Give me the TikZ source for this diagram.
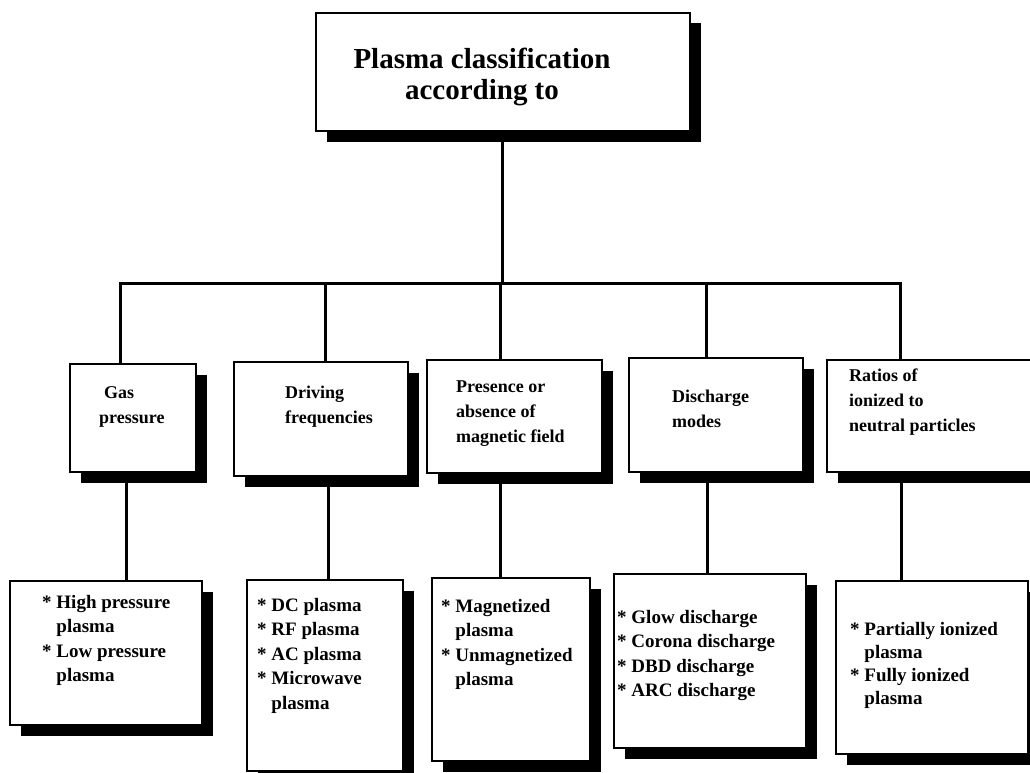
\documentclass[tikz,border=0pt]{standalone}
\usepackage{fontspec}
\setmainfont{Liberation Serif}
\usetikzlibrary{shadows}
\tikzset{
  box/.style={draw=black, line width=1.3pt, fill=white, inner sep=0pt,
    drop shadow={shadow xshift=10.5pt, shadow yshift=-10.5pt, fill=black, opacity=1}},
  conn/.style={line width=3pt},
  midtxt/.style={anchor=base west, align=left, inner sep=0pt, font=\bfseries\fontsize{18}{25}\selectfont},
  lowtxt/.style={anchor=base west, align=left, inner sep=0pt, font=\bfseries\fontsize{19}{24.5}\selectfont},
}
\begin{document}
\begin{tikzpicture}[x=1pt,y=-1pt]
\useasboundingbox[fill=white] (0,0) rectangle (1030,773);
% top
\node[box, minimum width=374pt, minimum height=118pt] (top) at (503,72) {};
\node[anchor=base, align=center, inner sep=0pt, font=\bfseries\fontsize{29}{32}\selectfont] (toptxt) at (482,100) {Plasma classification\\according to};
% middle boxes
\node[box, minimum width=126pt, minimum height=108pt] (gas) at (133,418) {};
\node[box, minimum width=174pt, minimum height=114pt] (drive) at (321,419) {};
\node[box, minimum width=175pt, minimum height=113pt] (pres) at (514.5,416.5) {};
\node[box, minimum width=174pt, minimum height=114pt] (disc) at (716,415) {};
\node[box, minimum width=213pt, minimum height=112pt] (ratio) at (933.5,416) {};
\node[midtxt] (gastxt) at (99,423) {\hspace{5pt}Gas\\pressure};
\node[midtxt] (drivetxt) at (285,423) {Driving\\frequencies};
\node[midtxt] (prestxt) at (456,442) {Presence or\\absence of\\magnetic field};
\node[midtxt] (disctxt) at (672,427) {Discharge\\modes};
\node[midtxt] (ratiotxt) at (849,431) {Ratios of\\ionized to\\neutral particles};
% lower boxes
\node[box, minimum width=192pt, minimum height=144pt] (gasl) at (106,653) {};
\node[box, minimum width=156pt, minimum height=191pt] (drivel) at (325,675.5) {};
\node[box, minimum width=158pt, minimum height=183pt] (presl) at (511,669.5) {};
\node[box, minimum width=192pt, minimum height=174pt] (discl) at (710,661) {};
\node[box, minimum width=192pt, minimum height=173pt] (ratiol) at (932,667.5) {};
\node[lowtxt] (gasltxt) at (42,681.5) {* High pressure\\\hphantom{* }plasma\\* Low pressure\\\hphantom{* }plasma};
\node[lowtxt] (driveltxt) at (257,709) {* DC plasma\\* RF plasma\\* AC plasma\\* Microwave\\\hphantom{* }plasma};
\node[lowtxt] (presltxt) at (441,685.5) {* Magnetized\\\hphantom{* }plasma\\* Unmagnetized\\\hphantom{* }plasma};
\node[lowtxt] (discltxt) at (617,696.5) {* Glow discharge\\* Corona discharge\\* DBD discharge\\* ARC discharge};
\node[lowtxt, font=\bfseries\fontsize{19}{23}\selectfont] (ratioltxt) at (850,704) {* Partially ionized\\\hphantom{* }plasma\\* Fully ionized\\\hphantom{* }plasma};
% connector coordinates
\coordinate (bus) at (502,283);
\coordinate (bl) at (120,283);
\coordinate (br) at (900,283);
\coordinate (u1) at (120,0);
\coordinate (u2) at (325,0);
\coordinate (u3) at (500,0);
\coordinate (u4) at (706,0);
\coordinate (u5) at (900,0);
\coordinate (l1) at (126,0);
\coordinate (l2) at (328,0);
\coordinate (l3) at (500,0);
\coordinate (l4) at (707,0);
\coordinate (l5) at (901,0);
\draw[conn] (top.south -| bus) -- (bus);
\draw[conn, line cap=rect] (bl) -- (br);
\draw[conn] (bl) -- (gas.north -| u1);
\draw[conn] (u2 |- bus) -- (drive.north -| u2);
\draw[conn] (u3 |- bus) -- (pres.north -| u3);
\draw[conn] (u4 |- bus) -- (disc.north -| u4);
\draw[conn] (br) -- (ratio.north -| u5);
\draw[conn] (gas.south -| l1) -- (gasl.north -| l1);
\draw[conn] (drive.south -| l2) -- (drivel.north -| l2);
\draw[conn] (pres.south -| l3) -- (presl.north -| l3);
\draw[conn] (disc.south -| l4) -- (discl.north -| l4);
\draw[conn] (ratio.south -| l5) -- (ratiol.north -| l5);
\end{tikzpicture}
\end{document}
